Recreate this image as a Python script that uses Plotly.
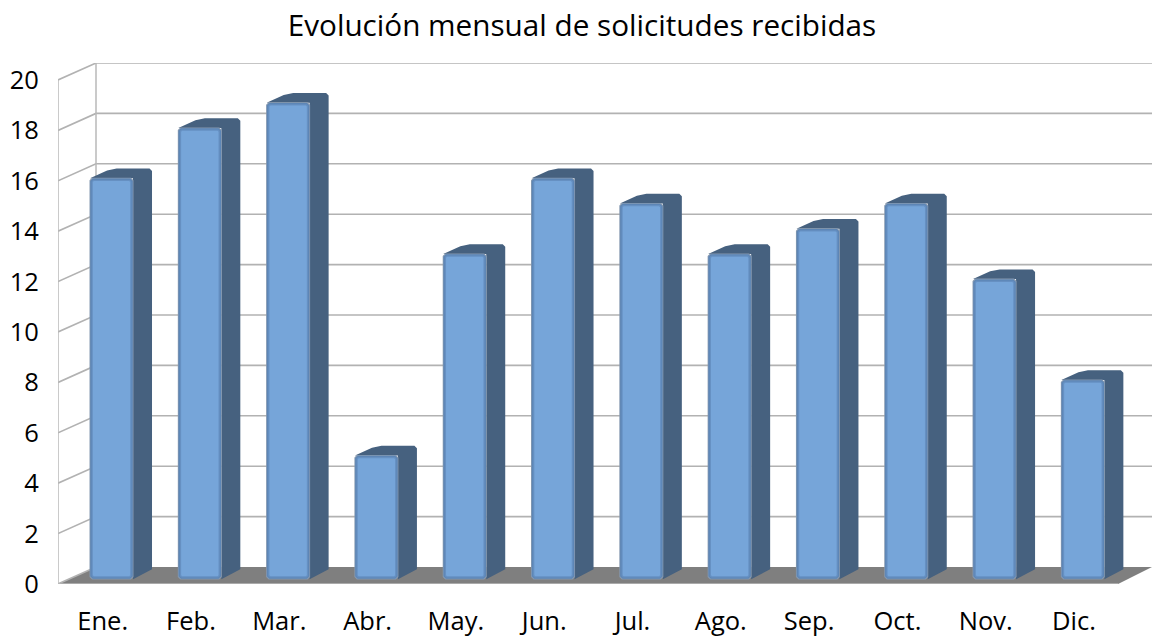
import plotly.graph_objects as go

months = ["Ene.", "Feb.", "Mar.", "Abr.", "May.", "Jun.", "Jul.", "Ago.", "Sep.", "Oct.", "Nov.", "Dic."]
values = [16, 18, 19, 5, 13, 16, 15, 13, 14, 15, 12, 8]
y_ticks = list(range(0, 21, 2))
title = "Evolución mensual de solicitudes recibidas"

PX_X = 88.3   # pixels per category
PX_Y = 25.2   # pixels per unit
WALL_DX, WALL_DY = 38 / PX_X, 17 / PX_Y
SIDE_DX, SIDE_DY = 19 / PX_X, 9.7 / PX_Y
HALF_W = 21.5 / PX_X
LIFT_BASE, LIFT_TOP = 5 / PX_Y, 2.5 / PX_Y
X0 = -0.606
X1 = 11.783
XFRONT_END = (1118 - 111.5) / PX_X


def poly(points, xs, ys):
    for x, y in points:
        xs.append(x)
        ys.append(y)
    xs.append(points[0][0])
    ys.append(points[0][1])
    xs.append(None)
    ys.append(None)


def rect(i, v, inset_px, cham_px=0):
    ix, iy = inset_px / PX_X, inset_px / PX_Y
    l, r = i - HALF_W + ix, i + HALF_W - ix
    b = LIFT_BASE + iy
    t = v + (LIFT_BASE - LIFT_TOP) - iy
    cx, cy = cham_px / PX_X, cham_px / PX_Y
    return [(l + cx, b), (r - cx, b), (r, b + cy), (r, t - cy), (r - cx, t), (l + cx, t), (l, t - cy), (l, b + cy)]


fig = go.Figure()


def add_fill(xs, ys, color, line=None, width=0):
    fig.add_trace(go.Scatter(x=xs, y=ys, mode="lines", fill="toself", fillcolor=color,
                             line=dict(color=line or color, width=width), hoverinfo="skip",
                             showlegend=False, cliponaxis=False))


def add_line(xs, ys, color, width):
    fig.add_trace(go.Scatter(x=xs, y=ys, mode="lines", line=dict(color=color, width=width),
                             hoverinfo="skip", showlegend=False, cliponaxis=False))


# floor
add_fill([X0, X0 + WALL_DX, X1, XFRONT_END, X0], [0, WALL_DY, WALL_DY, 0, 0], "#7f7f7f")

# gridlines on back and left walls
gx, gy = [], []
for t in y_ticks:
    if t == 0:
        gx += [X0, X0 + WALL_DX, None]
        gy += [t, t + WALL_DY, None]
    else:
        gx += [X0, X0 + WALL_DX, X1, None]
        gy += [t, t + WALL_DY, t + WALL_DY, None]
add_line(gx, gy, "#b2b2b2", 1.6)
add_line([X0, X0, None, X0 + WALL_DX, X0 + WALL_DX, None, X0, XFRONT_END],
         [0, y_ticks[-1], None, WALL_DY, y_ticks[-1] + WALL_DY, None, 0, 0], "#b8b8b8", 1.5)

# bar side and top faces
sx, sy = [], []
for i, v in enumerate(values):
    l, r = i - HALF_W, i + HALF_W
    t = v + LIFT_BASE - LIFT_TOP
    c = 2.5 / PX_X
    cy = 2.5 / PX_Y
    poly([(l, t), (l + SIDE_DX * 0.9, t + SIDE_DY * 0.8), (l + SIDE_DX * 1.4, t + SIDE_DY),
          (r + SIDE_DX - c, t + SIDE_DY), (r + SIDE_DX, t + SIDE_DY - cy),
          (r + SIDE_DX, LIFT_BASE + SIDE_DY), (r, LIFT_BASE - 0.01), (r, t)], sx, sy)
add_fill(sx, sy, "#46617f")

# bar front faces, layered to give the bevelled edge
for inset, cham, color in [(-0.5, 2.5, "#8498b0"), (0.3, 2.5, "#5d86b6"), (1.6, 1.5, "#6690c2"), (2.8, 1, "#76a5d9")]:
    fx, fy = [], []
    for i, v in enumerate(values):
        poly(rect(i, v, inset, cham), fx, fy)
    add_fill(fx, fy, color)

fig.update_layout(
    width=1152, height=637,
    margin=dict(l=58, r=0, t=63, b=53),
    paper_bgcolor="white", plot_bgcolor="white",
    font=dict(family="Open Sans", color="#000000", size=25.5),
    title=dict(text=title, x=582 / 1152, xref="container", xanchor="center",
               y=1 - 26 / 637, yref="container", yanchor="middle",
               font=dict(size=29.7, family="Open Sans", color="#000000")),
    xaxis=dict(range=[X0, X1], tickvals=[i - 0.1 for i in range(len(months))], ticktext=months,
               showgrid=False, zeroline=False, showline=False, ticks="outside", ticklen=14,
               tickcolor="rgba(0,0,0,0)", tickfont=dict(size=25.5), automargin=False),
    yaxis=dict(range=[0, y_ticks[-1] + WALL_DY], tickvals=y_ticks, ticktext=[str(t) for t in y_ticks],
               showgrid=False, zeroline=False, showline=False, ticks="outside", ticklen=13,
               tickcolor="rgba(0,0,0,0)", tickfont=dict(size=25.5), automargin=False),
    showlegend=False,
)

fig.write_html("out.html", config={"displayModeBar": False}, post_script="document.body.style.margin='0';")
